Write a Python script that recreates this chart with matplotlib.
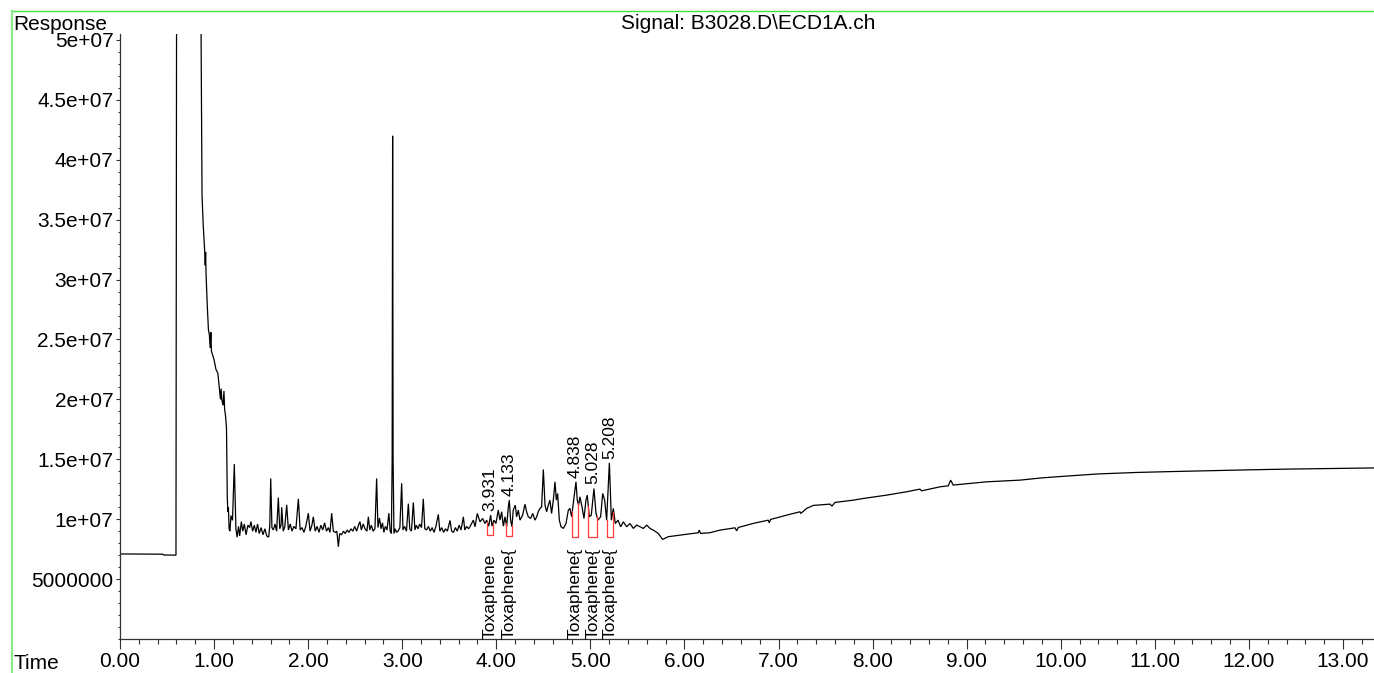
import numpy as np
import matplotlib
matplotlib.use("Agg")
import matplotlib.pyplot as plt
from matplotlib.lines import Line2D
from matplotlib.ticker import FixedLocator, FixedFormatter, MultipleLocator

plt.rcParams['font.family'] = ['Liberation Sans', 'DejaVu Sans']

# ECD chromatogram trace: retention time (min) and detector response (x 1e6 counts)
time_min = [
    0.000, 0.455, 0.465, 0.595, 0.605, 0.858, 0.862, 0.872, 0.885, 0.898,
    0.903, 0.906, 0.910, 0.915, 0.928, 0.940, 0.950, 0.958, 0.966, 0.972,
    0.985, 1.000, 1.020, 1.040, 1.055, 1.068, 1.075, 1.082, 1.095, 1.105,
    1.112, 1.122, 1.132, 1.140, 1.146, 1.152, 1.160, 1.168, 1.180, 1.196,
    1.215, 1.232, 1.245, 1.260, 1.272, 1.290, 1.305, 1.322, 1.340, 1.360,
    1.378, 1.392, 1.410, 1.428, 1.445, 1.462, 1.480, 1.500, 1.520, 1.540,
    1.560, 1.580, 1.592, 1.602, 1.615, 1.630, 1.648, 1.665, 1.683, 1.698,
    1.712, 1.719, 1.735, 1.752, 1.772, 1.790, 1.810, 1.828, 1.848, 1.870,
    1.896, 1.915, 1.935, 1.955, 1.975, 2.002, 2.020, 2.040, 2.055, 2.075,
    2.095, 2.115, 2.135, 2.155, 2.175, 2.195, 2.215, 2.232, 2.250, 2.268,
    2.290, 2.305, 2.321, 2.335, 2.355, 2.375, 2.395, 2.415, 2.435, 2.455,
    2.475, 2.495, 2.515, 2.535, 2.551, 2.565, 2.585, 2.605, 2.625, 2.640,
    2.655, 2.672, 2.690, 2.710, 2.728, 2.742, 2.758, 2.775, 2.790, 2.805,
    2.820, 2.838, 2.858, 2.872, 2.885, 2.893, 2.898, 2.903, 2.912, 2.925,
    2.940, 2.955, 2.975, 2.994, 3.008, 3.025, 3.045, 3.065, 3.080, 3.098,
    3.118, 3.135, 3.150, 3.168, 3.185, 3.205, 3.224, 3.240, 3.258, 3.278,
    3.298, 3.318, 3.338, 3.358, 3.384, 3.400, 3.420, 3.440, 3.460, 3.480,
    3.508, 3.525, 3.545, 3.565, 3.585, 3.605, 3.625, 3.650, 3.665, 3.685,
    3.705, 3.720, 3.756, 3.774, 3.798, 3.827, 3.855, 3.880, 3.898, 3.919,
    3.940, 3.954, 3.975, 3.996, 4.021, 4.039, 4.057, 4.075, 4.093, 4.110,
    4.128, 4.138, 4.152, 4.166, 4.180, 4.202, 4.216, 4.234, 4.252, 4.280,
    4.305, 4.322, 4.340, 4.365, 4.387, 4.411, 4.429, 4.446, 4.464, 4.482,
    4.500, 4.518, 4.535, 4.553, 4.570, 4.588, 4.606, 4.624, 4.638, 4.652,
    4.670, 4.688, 4.713, 4.741, 4.766, 4.783, 4.801, 4.818, 4.847, 4.861,
    4.875, 4.889, 4.911, 4.932, 4.953, 4.967, 4.989, 5.010, 5.038, 5.060,
    5.081, 5.109, 5.131, 5.152, 5.173, 5.202, 5.223, 5.244, 5.265, 5.294,
    5.322, 5.350, 5.386, 5.421, 5.457, 5.492, 5.528, 5.563, 5.599, 5.634,
    5.669, 5.722, 5.768, 5.828, 5.952, 6.147, 6.157, 6.171, 6.271, 6.378,
    6.537, 6.555, 6.573, 6.732, 6.891, 6.902, 6.916, 7.087, 7.228, 7.236,
    7.299, 7.370, 7.547, 7.568, 7.600, 7.795, 7.901, 8.150, 8.362, 8.503,
    8.521, 8.716, 8.805, 8.830, 8.857, 9.212, 9.566, 9.800, 10.100, 10.400,
    10.800, 11.200, 11.600, 12.000, 12.400, 12.800, 13.330,
]
response_1e6 = [
    7.10, 7.08, 7.01, 7.00, 80.0, 80.0, 50.2, 37.0, 34.5, 32.6,
    32.0, 31.2, 32.3, 30.4, 27.8, 25.8, 25.4, 24.3, 25.6, 24.0,
    23.7, 23.3, 22.5, 22.2, 21.0, 20.0, 20.9, 20.0, 19.5, 20.7,
    19.2, 18.6, 17.6, 12.0, 10.6, 11.0, 9.2, 9.0, 10.3, 9.9,
    14.6, 9.2, 8.5, 9.4, 8.6, 9.8, 9.0, 9.6, 8.7, 9.5,
    9.3, 9.8, 9.0, 9.5, 8.9, 9.6, 8.8, 9.3, 8.7, 9.2,
    8.6, 8.5, 9.4, 13.4, 9.3, 9.1, 9.6, 9.0, 11.8, 9.2,
    9.5, 11.0, 9.0, 9.4, 11.2, 9.1, 9.6, 9.0, 9.4, 9.2,
    11.7, 9.1, 9.3, 8.9, 9.4, 10.5, 9.0, 9.5, 10.2, 9.0,
    9.4, 8.9, 9.5, 9.1, 9.7, 9.0, 9.3, 8.9, 10.5, 9.0,
    8.9, 9.0, 7.7, 8.8, 8.7, 9.0, 8.8, 9.1, 8.9, 9.2,
    9.0, 9.4, 9.0, 9.5, 9.8, 9.1, 9.6, 9.2, 9.0, 10.2,
    9.1, 9.5, 9.0, 9.2, 13.4, 9.3, 10.1, 9.2, 9.7, 8.9,
    9.4, 9.1, 10.5, 9.0, 8.8, 15.0, 42.0, 15.0, 8.8, 9.2,
    8.9, 9.0, 9.3, 13.0, 9.1, 9.4, 9.0, 11.3, 9.2, 9.0,
    11.4, 9.1, 9.5, 9.2, 9.6, 9.3, 11.7, 9.2, 9.1, 9.4,
    9.0, 9.3, 8.9, 9.4, 10.4, 9.0, 9.3, 8.9, 9.2, 9.0,
    9.9, 9.0, 8.9, 9.3, 9.0, 9.5, 9.1, 10.2, 9.1, 9.4,
    9.2, 9.37, 9.92, 9.37, 10.48, 9.78, 10.06, 9.64, 9.92, 9.42,
    10.34, 9.42, 9.92, 9.64, 10.76, 9.92, 10.62, 9.42, 10.20, 9.37,
    11.03, 11.59, 9.92, 9.37, 10.76, 11.17, 10.20, 10.76, 9.92, 10.34,
    11.25, 10.62, 10.20, 10.06, 10.48, 9.92, 10.20, 10.62, 10.90, 11.03,
    14.15, 11.17, 10.62, 11.17, 11.59, 10.48, 11.59, 13.12, 11.59, 12.15,
    9.92, 9.37, 9.23, 9.64, 10.76, 10.90, 10.20, 11.31, 13.12, 11.59,
    11.17, 11.87, 11.03, 10.06, 11.59, 12.01, 10.20, 10.34, 12.56, 10.48,
    9.92, 10.20, 12.15, 11.59, 9.92, 14.71, 9.92, 10.90, 9.64, 9.92,
    9.37, 9.78, 9.37, 9.64, 9.23, 9.51, 9.37, 9.23, 9.51, 9.23,
    9.09, 8.81, 8.31, 8.54, 8.67, 8.87, 9.09, 8.81, 8.87, 9.09,
    9.28, 9.03, 9.31, 9.65, 9.92, 9.70, 9.98, 10.34, 10.62, 10.48,
    10.90, 11.15, 11.26, 11.09, 11.40, 11.59, 11.73, 12.01, 12.29, 12.51,
    12.37, 12.70, 12.79, 13.26, 12.85, 13.12, 13.26, 13.45, 13.62, 13.78,
    13.90, 13.98, 14.05, 14.12, 14.18, 14.22, 14.28,
]

# Integrated peaks: retention times, compound names and integration windows
peak_times = [3.931, 4.133, 4.838, 5.028, 5.208]
peak_apex_1e6 = [10.34, 11.59, 13.12, 12.56, 14.71]
compound_names = ["Toxaphene", "Toxaphene{", "Toxaphene{", "Toxaphene{", "Toxaphene{"]
window_start = [3.905, 4.103, 4.808, 4.978, 5.173]
window_end = [3.962, 4.163, 4.868, 5.067, 5.237]
window_base_1e6 = [8.67, 8.60, 8.54, 8.54, 8.54]

# Axis ticks
xtick_values = list(range(0, 14))
xtick_labels = ["0.00", "1.00", "2.00", "3.00", "4.00", "5.00", "6.00", "7.00",
                "8.00", "9.00", "10.00", "11.00", "12.00", "13.00"]
ytick_values = [5e6, 1e7, 1.5e7, 2e7, 2.5e7, 3e7, 3.5e7, 4e7, 4.5e7, 5e7]
ytick_labels = ["5000000", "1e+07", "1.5e+07", "2e+07", "2.5e+07", "3e+07",
                "3.5e+07", "4e+07", "4.5e+07", "5e+07"]

W, H = 1374, 673
fig = plt.figure(figsize=(W / 100, H / 100), dpi=100)
ax = fig.add_axes([120 / W, 34 / H, (W - 120) / W, 605 / H])

t = np.array(time_min)
r = np.array(response_1e6) * 1e6
ax.plot(t, r, color="black", lw=0.9, solid_joinstyle="miter")

ax.set_xlim(0, 13.33)
ax.set_ylim(0, 5.05e7)

# integration drop lines
for s, e, b in zip(window_start, window_end, window_base_1e6):
    ys = np.interp(s, t, r)
    ye = np.interp(e, t, r)
    ax.plot([s, s, e, e], [ys, b * 1e6, b * 1e6, ye], color="#ff3b3b", lw=0.9)

# retention time labels above peaks
for pt, pa in zip(peak_times, peak_apex_1e6):
    ax.annotate(f"{pt:.3f}", xy=(pt, pa * 1e6), xytext=(0, 3),
                textcoords="offset points", rotation=90, ha="center",
                va="bottom", fontsize=12.5)

# compound names standing on the time axis
for pt, name in zip(peak_times, compound_names):
    ax.text(pt, 0, name, rotation=90, ha="center", va="bottom", fontsize=12.5)

for side in ("top", "right"):
    ax.spines[side].set_visible(False)
for side in ("left", "bottom"):
    ax.spines[side].set_color("#333333")
    ax.spines[side].set_linewidth(0.9)

ax.xaxis.set_major_locator(FixedLocator(xtick_values))
ax.xaxis.set_major_formatter(FixedFormatter(xtick_labels))
ax.xaxis.set_minor_locator(MultipleLocator(0.2))
ax.yaxis.set_major_locator(FixedLocator(ytick_values))
ax.yaxis.set_major_formatter(FixedFormatter(ytick_labels))
ax.yaxis.set_minor_locator(MultipleLocator(1e6))

ax.tick_params(axis="x", which="major", direction="out", length=7.2, width=0.8,
               pad=2.0, labelsize=15, color="#333333")
ax.tick_params(axis="x", which="minor", direction="out", length=3.6, width=0.8,
               color="#333333")
ax.tick_params(axis="y", which="major", direction="out", length=3.2, width=0.8,
               pad=1.5, labelsize=15, color="#333333")
ax.tick_params(axis="y", which="minor", direction="out", length=1.5, width=0.8,
               color="#333333")

fig.text(13 / W, 1 - 30 / H, "Response", fontsize=15, va="baseline", ha="left")
fig.text(748.5 / W, 1 - 29 / H, "Signal: B3028.D\\ECD1A.ch", fontsize=15,
         va="baseline", ha="center")
fig.text(13 / W, 1 - 669 / H, "Time", fontsize=15, va="baseline", ha="left")

# frame lines
fig.add_artist(Line2D([12 / W, 1.0], [1 - 11 / H, 1 - 11 / H],
                      color="#44dd44", lw=1.0))
fig.add_artist(Line2D([12 / W, 12 / W], [0.0, 1 - 11 / H],
                      color="#8be88b", lw=1.6))

fig.savefig("out.png", dpi=100)
